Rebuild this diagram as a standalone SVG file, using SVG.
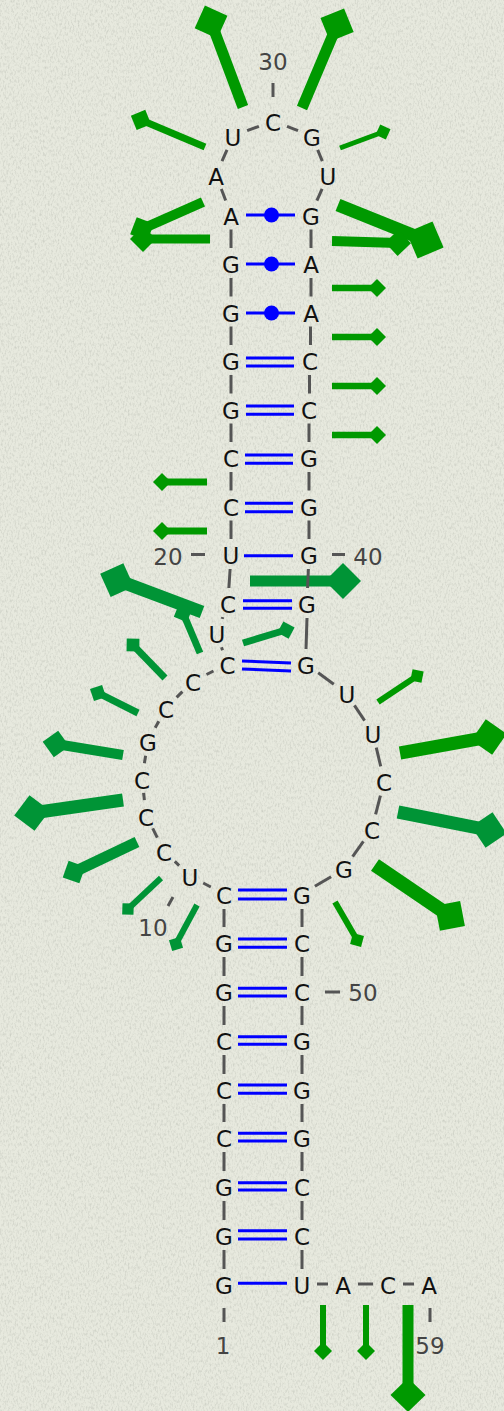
<svg xmlns="http://www.w3.org/2000/svg" width="504" height="1411" viewBox="0 0 504 1411">
<defs>
<filter id="paper" x="0" y="0" width="100%" height="100%">
<feTurbulence type="fractalNoise" baseFrequency="0.6 0.3" numOctaves="3" seed="7" result="n"/>
<feColorMatrix in="n" type="matrix" values="0 0 0 0 0.4  0 0 0 0 0.42  0 0 0 0 0.37  0.9 0 0 0 -0.4"/>
</filter>
<style>
.nt{font-family:"DejaVu Sans",Verdana,sans-serif;font-size:23px;fill:#111;text-anchor:middle}
.lb{font-family:"DejaVu Sans",Verdana,sans-serif;font-size:23px;fill:#444;text-anchor:middle}
.bb line{stroke:#555;stroke-width:3}
.tk line{stroke:#555;stroke-width:3}
.bp line{stroke:#0000ff;stroke-width:3}
.bp circle{fill:#0000ff}
.g1{fill:#009900}
.g2{fill:#009436}
</style>
</defs>
<rect width="504" height="1411" fill="#e7e9de"/>
<rect width="504" height="1411" filter="url(#paper)"/>

<g id="reactivity">
<g class="g1" transform="translate(243,107) rotate(-110.6)"><rect x="0" y="-5.5" width="90.8" height="11"/><polygon points="73.3,0 90.8,-17.5 108.3,0 90.8,17.5"/></g>
<g class="g1" transform="translate(302,108) rotate(-67.1)"><rect x="0" y="-5.5" width="90.1" height="11"/><polygon points="72.1,0 90.1,-18 108.1,0 90.1,18"/></g>
<g class="g1" transform="translate(205,147) rotate(-157.1)"><rect x="0" y="-3.5" width="69.5" height="7"/><polygon points="58.5,0 69.5,-11 80.5,0 69.5,11"/></g>
<g class="g1" transform="translate(340,148) rotate(-20.4)"><rect x="0" y="-2.5" width="45.9" height="5"/><polygon points="37.9,0 45.9,-8 53.9,0 45.9,8"/></g>
<g class="g1" transform="translate(203,202) rotate(156.1)"><rect x="0" y="-5" width="66.7" height="10"/><polygon points="53.7,0 66.7,-13 79.7,0 66.7,13"/></g>
<g class="g1" transform="translate(210,239) rotate(180)"><rect x="0" y="-4.5" width="67" height="9"/><polygon points="54,0 67,-13 80,0 67,13"/></g>
<g class="g1" transform="translate(338,205) rotate(21.9)"><rect x="0" y="-6.5" width="93.8" height="13"/><polygon points="73.8,0 93.8,-20 113.8,0 93.8,20"/></g>
<g class="g1" transform="translate(332,241) rotate(1.7)"><rect x="0" y="-5" width="66" height="10"/><polygon points="53,0 66,-13 79,0 66,13"/></g>
<g class="g1" transform="translate(332,288)"><rect x="0" y="-3.25" width="45" height="6.5"/><polygon points="36,0 45,-9 54,0 45,9"/></g>
<g class="g1" transform="translate(332,337)"><rect x="0" y="-3.25" width="45" height="6.5"/><polygon points="36,0 45,-9 54,0 45,9"/></g>
<g class="g1" transform="translate(332,386)"><rect x="0" y="-3.25" width="45" height="6.5"/><polygon points="36,0 45,-9 54,0 45,9"/></g>
<g class="g1" transform="translate(332,435)"><rect x="0" y="-3.25" width="45" height="6.5"/><polygon points="36,0 45,-9 54,0 45,9"/></g>
<g class="g1" transform="translate(207,482) rotate(180)"><rect x="0" y="-3.5" width="45" height="7"/><polygon points="36,0 45,-9 54,0 45,9"/></g>
<g class="g1" transform="translate(207,531) rotate(180)"><rect x="0" y="-3.5" width="45" height="7"/><polygon points="36,0 45,-9 54,0 45,9"/></g>
<g class="g2" transform="translate(250,581)"><rect x="0" y="-5.5" width="93" height="11"/><polygon points="75,0 93,-18 111,0 93,18"/></g>
<g class="g2" transform="translate(202,612) rotate(-159.4)"><rect x="0" y="-6.5" width="90.8" height="13"/><polygon points="72.8,0 90.8,-18 108.8,0 90.8,18"/></g>
<g class="g2" transform="translate(200,653) rotate(-113)"><rect x="0" y="-3.5" width="43.5" height="7"/><polygon points="33.5,0 43.5,-10 53.5,0 43.5,10"/></g>
<g class="g2" transform="translate(243,643) rotate(-16.8)"><rect x="0" y="-3.5" width="44.9" height="7"/><polygon points="35.9,0 44.9,-9 53.9,0 44.9,9"/></g>
<g class="g2" transform="translate(165,678) rotate(-134.1)"><rect x="0" y="-3.5" width="46" height="7"/><polygon points="37,0 46,-9 55,0 46,9"/></g>
<g class="g2" transform="translate(138,713) rotate(-153.4)"><rect x="0" y="-3.5" width="44.7" height="7"/><polygon points="35.7,0 44.7,-9 53.7,0 44.7,9"/></g>
<g class="g2" transform="translate(123,755) rotate(-170.7)"><rect x="0" y="-5" width="67.9" height="10"/><polygon points="54.4,0 67.9,-13.5 81.4,0 67.9,13.5"/></g>
<g class="g2" transform="translate(123,800) rotate(171.9)"><rect x="0" y="-6.5" width="91.9" height="13"/><polygon points="73.9,0 91.9,-18 109.9,0 91.9,18"/></g>
<g class="g2" transform="translate(137,842) rotate(154.5)"><rect x="0" y="-5.5" width="69.8" height="11"/><polygon points="57.3,0 69.8,-12.5 82.3,0 69.8,12.5"/></g>
<g class="g2" transform="translate(161,878) rotate(136.8)"><rect x="0" y="-3" width="45.3" height="6"/><polygon points="37.3,0 45.3,-8 53.3,0 45.3,8"/></g>
<g class="g2" transform="translate(197,905) rotate(118.3)"><rect x="0" y="-3" width="44.3" height="6"/><polygon points="36.3,0 44.3,-8 52.3,0 44.3,8"/></g>
<g class="g1" transform="translate(378,702) rotate(-33.7)"><rect x="0" y="-3" width="46.9" height="6"/><polygon points="38.9,0 46.9,-8 54.9,0 46.9,8"/></g>
<g class="g1" transform="translate(400,753) rotate(-10.2)"><rect x="0" y="-6.5" width="90.4" height="13"/><polygon points="72.4,0 90.4,-18 108.4,0 90.4,18"/></g>
<g class="g2" transform="translate(398,812) rotate(11.2)"><rect x="0" y="-6.5" width="92.8" height="13"/><polygon points="74.8,0 92.8,-18 110.8,0 92.8,18"/></g>
<g class="g1" transform="translate(375,865) rotate(34.2)"><rect x="0" y="-7" width="90.7" height="14"/><polygon points="72.7,0 90.7,-18 108.7,0 90.7,18"/></g>
<g class="g1" transform="translate(335,902) rotate(59.9)"><rect x="0" y="-3" width="43.9" height="6"/><polygon points="35.9,0 43.9,-8 51.9,0 43.9,8"/></g>
<g class="g1" transform="translate(323,1305) rotate(90)"><rect x="0" y="-3" width="46" height="6"/><polygon points="37,0 46,-9 55,0 46,9"/></g>
<g class="g1" transform="translate(366,1305) rotate(90)"><rect x="0" y="-3" width="46" height="6"/><polygon points="37,0 46,-9 55,0 46,9"/></g>
<g class="g1" transform="translate(408,1305) rotate(90)"><rect x="0" y="-5.5" width="90" height="11"/><polygon points="73,0 90,-17.5 107,0 90,17.5"/></g>
</g>

<g id="connectors">
<g class="bb">
<line x1="224" y1="1269" x2="224" y2="1250"/>
<line x1="224" y1="1220" x2="224" y2="1201"/>
<line x1="224" y1="1171" x2="224" y2="1152"/>
<line x1="224" y1="1122" x2="224" y2="1104"/>
<line x1="224" y1="1074" x2="224" y2="1055"/>
<line x1="224" y1="1025" x2="224" y2="1006"/>
<line x1="224" y1="976" x2="224" y2="957"/>
<line x1="224" y1="927" x2="224" y2="909"/>
<line x1="210.8" y1="887" x2="203.2" y2="883"/>
<line x1="179.2" y1="865.6" x2="174.8" y2="861.4"/>
<line x1="157.3" y1="837.6" x2="152.7" y2="828.4"/>
<line x1="144.4" y1="800.1" x2="143.6" y2="792.9"/>
<line x1="144.4" y1="763.2" x2="145.6" y2="755.8"/>
<line x1="155.2" y1="727.8" x2="158.8" y2="721.2"/>
<line x1="176.6" y1="697.4" x2="182.4" y2="691.6"/>
<line x1="206.5" y1="674.5" x2="213.5" y2="671"/>
<line x1="222.5" y1="650.2" x2="221.5" y2="647.3"/>
<line x1="222.2" y1="618.9" x2="222.8" y2="617.1"/>
<line x1="228.9" y1="588" x2="230.1" y2="569"/>
<line x1="231" y1="539" x2="231" y2="520.5"/>
<line x1="231" y1="490.5" x2="231" y2="472"/>
<line x1="231" y1="442" x2="231" y2="423.5"/>
<line x1="231" y1="393.5" x2="231" y2="375"/>
<line x1="231" y1="345" x2="231" y2="326.5"/>
<line x1="231" y1="296.5" x2="231" y2="278"/>
<line x1="231" y1="248" x2="231" y2="229.5"/>
<line x1="225.7" y1="200.5" x2="221.3" y2="189"/>
<line x1="222" y1="161.2" x2="227" y2="149.8"/>
<line x1="247.1" y1="130.7" x2="258.9" y2="126.3"/>
<line x1="287" y1="126.4" x2="298" y2="130.6"/>
<line x1="317.7" y1="149.9" x2="322.3" y2="161.1"/>
<line x1="322.1" y1="188.8" x2="316.9" y2="200.7"/>
<line x1="311" y1="229.5" x2="311" y2="248"/>
<line x1="311" y1="278" x2="311" y2="296.5"/>
<line x1="310.5" y1="326.5" x2="310.5" y2="345"/>
<line x1="309.5" y1="375" x2="309.5" y2="393.5"/>
<line x1="309" y1="423.5" x2="309" y2="442"/>
<line x1="309" y1="472" x2="309" y2="490.5"/>
<line x1="309" y1="520.5" x2="309" y2="539"/>
<line x1="308.4" y1="569" x2="307.6" y2="588"/>
<line x1="307" y1="618" x2="306" y2="649"/>
<line x1="318.2" y1="672.8" x2="333.8" y2="684.2"/>
<line x1="354.4" y1="705.4" x2="364.6" y2="720.6"/>
<line x1="376.3" y1="747.6" x2="380.7" y2="766.4"/>
<line x1="380.4" y1="795.6" x2="375.6" y2="814.4"/>
<line x1="363.4" y1="841.3" x2="352.6" y2="856.7"/>
<line x1="331.1" y1="876.7" x2="314.9" y2="886.3"/>
<line x1="302" y1="909" x2="302" y2="927"/>
<line x1="302" y1="957" x2="302" y2="976"/>
<line x1="302" y1="1006" x2="302" y2="1025"/>
<line x1="302" y1="1055" x2="302" y2="1074"/>
<line x1="302" y1="1104" x2="302" y2="1122"/>
<line x1="302" y1="1152" x2="302" y2="1171"/>
<line x1="302" y1="1201" x2="302" y2="1220"/>
<line x1="302" y1="1250" x2="302" y2="1269"/>
<line x1="317" y1="1284" x2="328" y2="1284"/>
<line x1="358" y1="1284" x2="373" y2="1284"/>
<line x1="403" y1="1284" x2="414" y2="1284"/>
</g>
<g class="bp">
<line x1="246" y1="215" x2="295" y2="215"/><circle cx="271.5" cy="215" r="7.5"/>
<line x1="246" y1="264" x2="295" y2="264"/><circle cx="271.5" cy="264" r="7.5"/>
<line x1="246" y1="313" x2="295" y2="313"/><circle cx="271.5" cy="313" r="7.5"/>
<line x1="246" y1="358" x2="294" y2="358"/><line x1="246" y1="366" x2="294" y2="366"/>
<line x1="246" y1="406" x2="294" y2="406"/><line x1="246" y1="414.3" x2="294" y2="414.3"/>
<line x1="245" y1="455" x2="293" y2="455"/><line x1="245" y1="463.3" x2="293" y2="463.3"/>
<line x1="245" y1="503.3" x2="293" y2="503.3"/><line x1="245" y1="511.7" x2="293" y2="511.7"/>
<line x1="244" y1="555.7" x2="293" y2="555.7"/>
<line x1="243" y1="600.7" x2="292" y2="600.7"/><line x1="243" y1="608.3" x2="292" y2="608.3"/>
<line x1="242" y1="661" x2="291" y2="663"/><line x1="242" y1="669" x2="291" y2="671"/>
<line x1="238" y1="890" x2="287" y2="890"/><line x1="238" y1="899" x2="287" y2="899"/>
<line x1="238" y1="939" x2="287" y2="939"/><line x1="238" y1="947.3" x2="287" y2="947.3"/>
<line x1="238" y1="988.3" x2="287" y2="988.3"/><line x1="238" y1="996" x2="287" y2="996"/>
<line x1="238" y1="1036.7" x2="287" y2="1036.7"/><line x1="238" y1="1044.3" x2="287" y2="1044.3"/>
<line x1="238" y1="1085" x2="287" y2="1085"/><line x1="238" y1="1093.3" x2="287" y2="1093.3"/>
<line x1="238" y1="1133.3" x2="287" y2="1133.3"/><line x1="238" y1="1141" x2="287" y2="1141"/>
<line x1="238" y1="1182.7" x2="287" y2="1182.7"/><line x1="238" y1="1190" x2="287" y2="1190"/>
<line x1="238" y1="1230.7" x2="287" y2="1230.7"/><line x1="238" y1="1239" x2="287" y2="1239"/>
<line x1="238" y1="1283.3" x2="287" y2="1283.3"/>
</g>
<g class="tk">
<line x1="273" y1="83" x2="273" y2="97"/>
<line x1="191" y1="554.5" x2="205" y2="554.5"/>
<line x1="332" y1="554.5" x2="345" y2="554.5"/>
<line x1="173" y1="897" x2="168" y2="906"/>
<line x1="325" y1="992" x2="340" y2="992"/>
<line x1="224" y1="1308" x2="224" y2="1322"/>
<line x1="430" y1="1308" x2="430" y2="1322"/>
</g>
</g>

<g id="labels">
<text class="lb" x="273" y="70">30</text>
<text class="lb" x="168" y="565">20</text>
<text class="lb" x="368" y="565">40</text>
<text class="lb" x="153" y="936">10</text>
<text class="lb" x="363" y="1001">50</text>
<text class="lb" x="223" y="1354">1</text>
<text class="lb" x="430" y="1354">59</text>
</g>

<g id="n1"><text class="nt" x="224" y="1294.4">G</text></g>
<g id="n2"><text class="nt" x="224" y="1245.4">G</text></g>
<g id="n3"><text class="nt" x="224" y="1196.4">G</text></g>
<g id="n4"><text class="nt" x="224" y="1147.4">C</text></g>
<g id="n5"><text class="nt" x="224" y="1099.4">C</text></g>
<g id="n6"><text class="nt" x="224" y="1050.4">C</text></g>
<g id="n7"><text class="nt" x="224" y="1001.4">G</text></g>
<g id="n8"><text class="nt" x="224" y="952.4">G</text></g>
<g id="n9"><text class="nt" x="224" y="904.4">C</text></g>
<g id="n10"><text class="nt" x="190" y="886.4">U</text></g>
<g id="n11"><text class="nt" x="164" y="861.4">C</text></g>
<g id="n12"><text class="nt" x="146" y="826.4">C</text></g>
<g id="n13"><text class="nt" x="142" y="789.4">C</text></g>
<g id="n14"><text class="nt" x="148" y="751.4">G</text></g>
<g id="n15"><text class="nt" x="166" y="718.4">C</text></g>
<g id="n16"><text class="nt" x="193" y="691.4">C</text></g>
<g id="n17"><text class="nt" x="227.5" y="674.4">C</text></g>
<g id="n18"><text class="nt" x="217" y="643.4">U</text></g>
<g id="n19"><text class="nt" x="228" y="613.4">C</text></g>
<g id="n20"><text class="nt" x="231" y="564.4">U</text></g>
<g id="n21"><text class="nt" x="231" y="515.9">C</text></g>
<g id="n22"><text class="nt" x="231" y="467.4">C</text></g>
<g id="n23"><text class="nt" x="231" y="418.9">G</text></g>
<g id="n24"><text class="nt" x="231" y="370.4">G</text></g>
<g id="n25"><text class="nt" x="231" y="321.9">G</text></g>
<g id="n26"><text class="nt" x="231" y="273.4">G</text></g>
<g id="n27"><text class="nt" x="231" y="224.9">A</text></g>
<g id="n28"><text class="nt" x="216" y="185.4">A</text></g>
<g id="n29"><text class="nt" x="233" y="146.4">U</text></g>
<g id="n30"><text class="nt" x="273" y="131.4">C</text></g>
<g id="n31"><text class="nt" x="312" y="146.4">G</text></g>
<g id="n32"><text class="nt" x="328" y="185.4">U</text></g>
<g id="n33"><text class="nt" x="311" y="224.9">G</text></g>
<g id="n34"><text class="nt" x="311" y="273.4">A</text></g>
<g id="n35"><text class="nt" x="311" y="321.9">A</text></g>
<g id="n36"><text class="nt" x="310" y="370.4">C</text></g>
<g id="n37"><text class="nt" x="309" y="418.9">C</text></g>
<g id="n38"><text class="nt" x="309" y="467.4">G</text></g>
<g id="n39"><text class="nt" x="309" y="515.9">G</text></g>
<g id="n40"><text class="nt" x="309" y="564.4">G</text></g>
<g id="n41"><text class="nt" x="307" y="613.4">G</text></g>
<g id="n42"><text class="nt" x="306" y="674.4">G</text></g>
<g id="n43"><text class="nt" x="347" y="703.4">U</text></g>
<g id="n44"><text class="nt" x="373" y="743.4">U</text></g>
<g id="n45"><text class="nt" x="384" y="791.4">C</text></g>
<g id="n46"><text class="nt" x="372" y="839.4">C</text></g>
<g id="n47"><text class="nt" x="344" y="878.4">G</text></g>
<g id="n48"><text class="nt" x="302" y="904.4">G</text></g>
<g id="n49"><text class="nt" x="302" y="952.4">C</text></g>
<g id="n50"><text class="nt" x="302" y="1001.4">C</text></g>
<g id="n51"><text class="nt" x="302" y="1050.4">G</text></g>
<g id="n52"><text class="nt" x="302" y="1099.4">G</text></g>
<g id="n53"><text class="nt" x="302" y="1147.4">G</text></g>
<g id="n54"><text class="nt" x="302" y="1196.4">C</text></g>
<g id="n55"><text class="nt" x="302" y="1245.4">C</text></g>
<g id="n56"><text class="nt" x="302" y="1294.4">U</text></g>
<g id="n57"><text class="nt" x="343" y="1294.4">A</text></g>
<g id="n58"><text class="nt" x="388" y="1294.4">C</text></g>
<g id="n59"><text class="nt" x="429" y="1294.4">A</text></g>
</svg>
